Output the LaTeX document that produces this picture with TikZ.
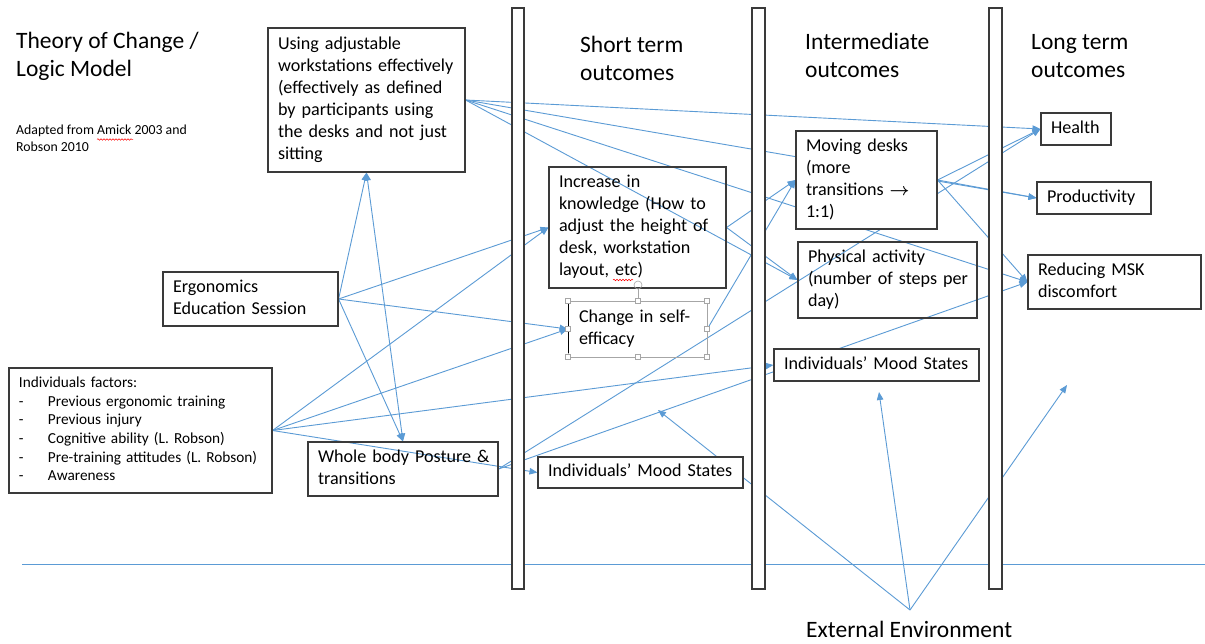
\documentclass[tikz,border=0pt]{standalone}
\usepackage{fontspec}
\setmainfont{Carlito}
\usetikzlibrary{arrows.meta,decorations.pathmorphing}
\definecolor{lnblue}{HTML}{5B9BD5}
\definecolor{bxline}{HTML}{3A3A3A}
\definecolor{selgray}{HTML}{A6A6A6}
\pgfdeclarelayer{bg}
\pgfdeclarelayer{lines}
\pgfdeclarelayer{bars}
\pgfsetlayers{bg,lines,bars,main}
\newcommand{\tb}[1]{\begin{tabular}{@{}l@{}}#1\end{tabular}}
\begin{document}
\begin{tikzpicture}[x=1pt,y=-1pt,
 box/.style={draw=bxline, line width=1.1pt, inner xsep=10pt, inner ysep=0pt, align=left, font=\fontsize{18.1}{22}\selectfont},
 solidbox/.style={fill=white},
 conn/.style={draw=lnblue, line width=0.9pt},
 arr/.style={conn, -{Triangle[length=8pt,width=6.5pt]}},
 darr/.style={conn, {Triangle[length=8pt,width=6.5pt]}-{Triangle[length=8pt,width=6.5pt]}},
 bar/.style={draw=bxline, fill=white, line width=1.1pt, inner sep=0pt},
 big/.style={font=\fontsize{23.5}{28}\selectfont, inner sep=0pt, anchor=base west},
 small/.style={font=\fontsize{13.8}{17}\selectfont, inner sep=0pt, anchor=base west},
 handle/.style={draw=selgray, fill=white, line width=0.6pt, minimum size=4.5pt, inner sep=0pt},
 squig/.style={draw=red, line width=0.5pt, decorate, decoration={snake, amplitude=0.8pt, segment length=3pt}}
]
\begin{pgfonlayer}{bg}
\fill[white] (0,0) rectangle (1205,644);
\end{pgfonlayer}
\useasboundingbox (0,0) rectangle (1205,644);

% titles
\node[big] (t1) at (16,49) {Theory of Change /};
\node[big] (t2) at (16,77) {Logic Model};
\node[small] (n1) at (16,135) {Adapted from Amick 2003 and};
\node[small] (n2) at (16,152) {Robson 2010};
\draw[squig] (97,139.5) -- (133,139.5);

\node[big] (s1) at (580,53) {Short term};
\node[big] (s2) at (580,81) {outcomes};
\node[big] (i1) at (805,50) {Intermediate};
\node[big] (i2) at (805,78) {outcomes};
\node[big] (l1) at (1031,50) {Long term};
\node[big] (l2) at (1031,78) {outcomes};
\node[big] (ext) at (806,637) {External Environment};

% bars
\begin{pgfonlayer}{bars}
\node[bar, minimum width=12pt, minimum height=581pt] (bar1) at (518,298.5) {};
\node[bar, minimum width=13pt, minimum height=581pt] (bar2) at (758.5,298.5) {};
\node[bar, minimum width=13pt, minimum height=581pt] (bar3) at (995.5,298.5) {};
\end{pgfonlayer}

% boxes
\node[box, text width=177pt, minimum height=144pt] (using) at (366.5,100)
 {\tb{Using adjustable\\workstations effectively\\(effectively as defined\\by participants using\\the desks and not just\\sitting}};
\node[box, text width=155pt, minimum height=54pt] (ergo) at (250.5,299)
 {\tb{Ergonomics\\Education Session}};
\node[box, text width=243pt, minimum height=125pt, font=\fontsize{15.3}{18.7}\selectfont] (indiv) at (140.5,430.5)
 {\begin{tabular}{@{}p{29pt}@{}l@{}}\multicolumn{2}{@{}l@{}}{Individuals factors:}\\
 -&Previous ergonomic training\\
 -&Previous injury\\
 -&Cognitive ability (L. Robson)\\
 -&Pre-training attitudes (L. Robson)\\
 -&Awareness\end{tabular}};
\node[box, text width=170pt, minimum height=54pt] (whole) at (403,469)
 {\tb{Whole body Posture \&\\transitions}};
\node[box, text width=157pt, minimum height=121pt] (incr) at (637.5,227.5)
 {\tb{Increase in\\knowledge (How to\\adjust the height of\\desk, workstation\\layout, etc)}};
\draw[squig] (613,280) -- (633,280);
\node[box, draw=selgray, line width=0.6pt, inner xsep=11pt, text width=117pt, minimum height=56pt] (self) at (637.5,329)
 {\tb{Change in self-\\efficacy}};
\draw[black, line width=1pt] (568.3,304) -- (568.3,353);
\foreach \p [count=\i] in {(568,301),(638,301),(707,301),(568,329),(707,329),(568,357),(638,357),(707,357)}
 \node[handle] (h\i) at \p {};
\node[draw=selgray, circle, minimum size=8pt, inner sep=0pt, line width=0.6pt] (rot) at (638,285) {};
\draw[selgray, line width=0.6pt] (rot.south) -- (h2.north);

\node[box, solidbox, text width=121pt, minimum height=98pt] (moving) at (866.5,180)
 {\tb{Moving desks\\(more\\transitions {\fontsize{18}{22}\selectfont\boldmath$\rightarrow$}\\1:1)}};
\node[box, text width=159pt, minimum height=76pt] (phys) at (887.5,280)
 {\tb{Physical activity\\(number of steps per\\day)}};
\node[box, solidbox, text width=185pt, minimum height=32pt] (moodI) at (876.5,365)
 {\tb{Individuals’ Mood States}};
\node[box, solidbox, text width=185pt, minimum height=31pt] (moodS) at (640.5,472.5)
 {\tb{Individuals’ Mood States}};
\node[box, text width=50pt, minimum height=32pt] (health) at (1076,129) {\tb{Health}};
\node[box, text width=94pt, minimum height=32pt] (prod) at (1094,198) {\tb{Productivity}};
\node[box, text width=153pt, minimum height=54pt] (msk) at (1114.5,282)
 {\tb{Reducing MSK\\discomfort}};

\coordinate (extsrc) at (910,610);
\coordinate (ea) at (658,410);
\coordinate (eb) at (879,392);
\coordinate (ec) at (1067,385);
\coordinate (hlA) at (22,564);
\coordinate (hlB) at (1205,564);

\begin{pgfonlayer}{lines}
\draw[conn] (hlA) -- (hlB);
\draw[arr] (ergo.east) -- (using.south);
\draw[arr] (ergo.east) -- (whole.north);
\draw[darr] (using.south) -- (whole.north);
\draw[arr] (ergo.east) -- (incr.west);
\draw[arr] (ergo.east) -- (self.west);
\draw[arr] (indiv.east) -- (incr.west);
\draw[arr] (indiv.east) -- (self.west);
\draw[arr] (indiv.east) -- (moodI.west);
\draw[arr] (indiv.east) -- (moodS.west);
\draw[arr] (using.east) -- (health.west);
\draw[arr] (using.east) -- (prod.west);
\draw[arr] (using.east) -- (msk.west);
\draw[arr] (using.east) -- (phys.west);
\draw[arr] (incr.east) -- (moving.west);
\draw[arr] (incr.east) -- (phys.west);
\draw[arr] (self.east) -- (moving.west);
\draw[arr] (moving.east) -- (health.west);
\draw[arr] (moving.east) -- (prod.west);
\draw[arr] (moving.east) -- (msk.west);
\draw[arr] (whole.east) -- (health.west);
\draw[arr] (whole.east) -- (msk.west);
\draw[arr] (extsrc) -- (ea);
\draw[arr] (extsrc) -- (eb);
\draw[arr] (extsrc) -- (ec);
\end{pgfonlayer}
\end{tikzpicture}
\end{document}
